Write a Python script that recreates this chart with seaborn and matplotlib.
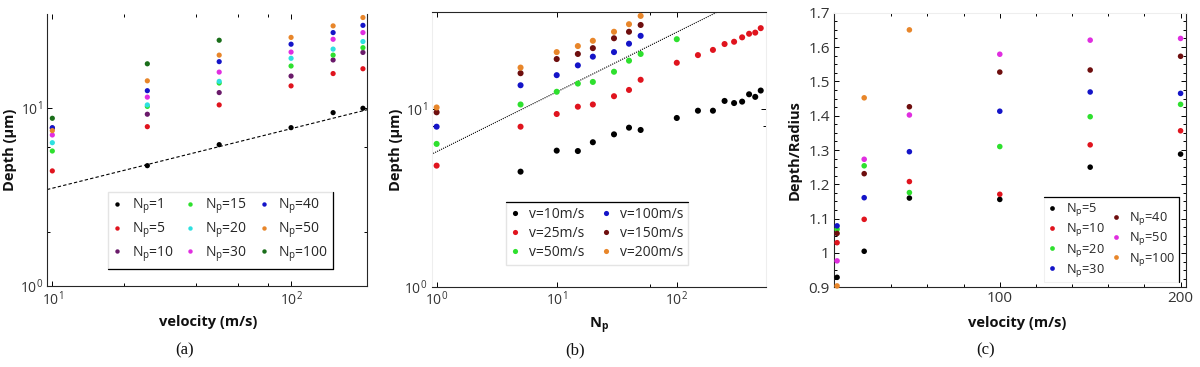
import numpy as np
import pandas as pd
import matplotlib
matplotlib.use("Agg")
import matplotlib.pyplot as plt
import matplotlib.ticker as mticker
from matplotlib.lines import Line2D
import seaborn as sns

nan = np.nan

# ---------------- panel (a): depth vs velocity for several Np ----------------
vel_a = [10, 25, 50, 100, 150, 200]
depth_np1 = [nan, 4.74, 6.22, 7.75, 9.41, 9.96]
depth_np5 = [4.43, 7.85, 10.4, 13.3, 15.6, 16.6]
depth_np10 = [7.7, 9.22, 12.2, 15.1, 18.6, 20.5]
depth_np15 = [5.73, 10.2, 13.8, 17.2, 19.8, 21.8]
depth_np20 = [6.38, 10.4, 14.1, 19.0, 21.4, 23.6]
depth_np30 = [7.05, 11.5, 15.9, 20.6, 24.3, 26.5]
depth_np40 = [7.75, 12.5, 18.2, 22.8, 26.5, 29.1]
depth_np50 = [7.46, 14.2, 19.8, 24.9, 28.9, 32.2]
depth_np100 = [8.75, 17.7, 24.0, nan, nan, nan]
np_values_a = [1, 5, 10, 15, 20, 30, 40, 50, 100]
colors_a = ["#000000", "#e0141e", "#6a1a6a", "#2ee02e", "#2ee0e0",
            "#e02ee0", "#1414c8", "#e8862a", "#1a6e1a"]
fit_a_x = [9.5, 210]
fit_a_y = [3.48, 9.8]

# ---------------- panel (b): depth vs Np for several velocities ----------------
np_b = [1, 5, 10, 15, 20, 30, 40, 50, 100, 150, 200, 250, 300, 350, 400, 450, 500]
depth_v10 = [nan, 4.44, 5.83, 5.80, 6.50, 7.20, 7.85, 7.62, 8.90, 9.78, 9.78,
             11.1, 10.8, 11.0, 12.1, 11.7, 12.7]
depth_v25 = [4.80, 7.95, 9.37, 10.3, 10.6, 11.8, 12.8, 14.6, 18.2, 20.1, 21.5,
             23.2, 23.9, 25.3, 26.5, 26.9, 28.5]
depth_v50 = [6.36, 10.6, 12.5, 13.9, 14.2, 16.2, 18.7, 20.4, 24.7] + [nan] * 8
depth_v100 = [7.95, 13.6, 15.5, 17.6, 19.7, 20.9, 23.3, 25.8] + [nan] * 9
depth_v150 = [9.58, 15.9, 19.1, 20.4, 22.0, 25.0, 27.2, 29.7] + [nan] * 9
depth_v200 = [10.2, 17.1, 20.9, 22.6, 24.2, 27.2, 30.0, 33.4] + [nan] * 9
vel_values_b = [10, 25, 50, 100, 150, 200]
colors_b = ["#000000", "#e0141e", "#2ee02e", "#1414c8", "#6e0e0e", "#e8862a"]
fit_b_x = [0.9, 215]
fit_b_y = [5.55, 35.0]

# ---------------- panel (c): depth/radius vs velocity ----------------
vel_c = [10, 25, 50, 100, 150, 200]
ratio_np5 = [0.929, 1.005, 1.160, 1.156, 1.250, 1.288]
ratio_np10 = [1.030, 1.098, 1.208, 1.171, 1.315, 1.356]
ratio_np20 = [1.069, 1.254, 1.176, 1.310, 1.397, 1.433]
ratio_np30 = [1.079, 1.161, 1.295, 1.413, 1.469, 1.465]
ratio_np40 = [1.057, 1.231, 1.426, 1.527, 1.533, 1.573]
ratio_np50 = [0.977, 1.273, 1.402, 1.579, 1.620, 1.625]
ratio_np100 = [0.904, 1.452, 1.650, nan, nan, nan]
np_values_c = [5, 10, 20, 30, 40, 50, 100]
colors_c = ["#000000", "#e0141e", "#2ee02e", "#1414c8", "#6e0e0e", "#e02ee0", "#e8862a"]

# ---------------- style ----------------
sns.set_theme(style="white")
plt.rcParams["font.family"] = ["Open Sans", "DejaVu Sans"]
plt.rcParams["mathtext.fontset"] = "custom"
plt.rcParams["mathtext.rm"] = "Open Sans"
plt.rcParams["mathtext.it"] = "Open Sans:italic"
plt.rcParams["mathtext.bf"] = "Open Sans:bold"
plt.rcParams["axes.linewidth"] = 0.8

fig = plt.figure(figsize=(12, 3.67), dpi=100)
W, H = 1200.0, 367.0


def add_axes_px(x0, y0, x1, y1):
    return fig.add_axes([x0 / W, 1 - y1 / H, (x1 - x0) / W, (y1 - y0) / H])


ax_a = add_axes_px(47, 14, 367, 286)
ax_b = add_axes_px(431.7, 12.3, 765.7, 286.7)
ax_c = add_axes_px(834, 12.7, 1186, 287.3)


def np_label(n):
    return r"N$_\mathrm{p}$=" + str(n)


def long_frame(xvals, series, names):
    rows = []
    for name, ys in zip(names, series):
        for x, y in zip(xvals, ys):
            rows.append((x, y, name))
    return pd.DataFrame(rows, columns=["x", "y", "series"]).dropna()


def style_ticks(ax, labelsize):
    ax.tick_params(which="both", direction="in", top=True, right=True,
                   bottom=True, left=True, color="black", labelcolor="#333333",
                   labelsize=labelsize, pad=3)
    ax.tick_params(which="major", length=3.5, width=0.7)
    ax.tick_params(which="minor", length=2.5, width=0.7)


def dark_edges(leg, sides, lw=0.9):
    fig.canvas.draw()
    bb = leg.get_frame().get_window_extent().transformed(fig.transFigure.inverted())
    x0, y0, x1, y1 = bb.x0, bb.y0, bb.x1, bb.y1
    segs = {"top": ([x0, x1], [y1, y1]), "bottom": ([x0, x1], [y0, y0]),
            "left": ([x0, x0], [y0, y1]), "right": ([x1, x1], [y0, y1])}
    for s in sides:
        fig.add_artist(Line2D(*segs[s], transform=fig.transFigure, color="black", lw=lw))


legend_kw = dict(fancybox=False, framealpha=1, edgecolor="#e4e4e4",
                 handlelength=0.6, handletextpad=0.75, borderaxespad=0,
                 markerscale=0.85)

# ---------------- (a) ----------------
names_a = [np_label(n) for n in np_values_a]
df_a = long_frame(vel_a, [depth_np1, depth_np5, depth_np10, depth_np15, depth_np20,
                          depth_np30, depth_np40, depth_np50, depth_np100], names_a)
sns.scatterplot(data=df_a, x="x", y="y", hue="series", hue_order=names_a,
                palette=dict(zip(names_a, colors_a)), s=14, linewidth=0,
                ax=ax_a, clip_on=False, zorder=3)
ax_a.plot(fit_a_x, fit_a_y, ls=(0, (3, 2)), color="black", lw=0.8, zorder=2)
ax_a.set_xscale("log")
ax_a.set_yscale("log")
ax_a.set_xlim(9.5, 208)
ax_a.set_ylim(1, 33.7)
ax_a.xaxis.set_major_locator(mticker.FixedLocator([10, 100]))
ax_a.xaxis.set_minor_locator(mticker.FixedLocator([20, 40, 60, 80]))
ax_a.yaxis.set_major_locator(mticker.FixedLocator([1, 10]))
ax_a.yaxis.set_minor_locator(mticker.FixedLocator([2, 6]))
ax_a.xaxis.set_major_formatter(mticker.LogFormatterSciNotation())
ax_a.yaxis.set_major_formatter(mticker.LogFormatterSciNotation())
ax_a.xaxis.set_minor_formatter(mticker.NullFormatter())
ax_a.yaxis.set_minor_formatter(mticker.NullFormatter())
style_ticks(ax_a, 10)
ax_a.spines["top"].set_visible(False)
ax_a.set_xlabel("velocity (m/s)", fontsize=10.5, fontweight="bold", color="#111111")
ax_a.set_ylabel("Depth (μm)", fontsize=10.5, fontweight="bold", color="#111111")
ax_a.xaxis.set_label_coords(0.503, -0.105)
ax_a.yaxis.set_label_coords(-0.094, 0.5)
h, l = ax_a.get_legend_handles_labels()
leg_a = ax_a.legend(h, l, ncol=3, loc="upper left", bbox_to_anchor=(0.1906, 0.3467),
                    fontsize=10, labelspacing=0.3, columnspacing=0.9,
                    borderpad=0.35, **legend_kw)

# ---------------- (b) ----------------
names_b = ["v=%dm/s" % v for v in vel_values_b]
df_b = long_frame(np_b, [depth_v10, depth_v25, depth_v50, depth_v100, depth_v150,
                         depth_v200], names_b)
sns.scatterplot(data=df_b, x="x", y="y", hue="series", hue_order=names_b,
                palette=dict(zip(names_b, colors_b)), s=19, linewidth=0,
                ax=ax_b, clip_on=False, zorder=3)
ax_b.plot(fit_b_x, fit_b_y, ls=(0, (1, 1)), color="black", lw=0.8, zorder=2)
ax_b.set_xscale("log")
ax_b.set_yscale("log")
ax_b.set_xlim(0.91, 550)
ax_b.set_ylim(1, 35)
ax_b.xaxis.set_major_locator(mticker.FixedLocator([1, 10, 100]))
ax_b.xaxis.set_minor_locator(mticker.FixedLocator([60]))
ax_b.yaxis.set_major_locator(mticker.FixedLocator([1, 10]))
ax_b.yaxis.set_minor_locator(mticker.FixedLocator([8]))
ax_b.xaxis.set_major_formatter(mticker.LogFormatterSciNotation())
ax_b.yaxis.set_major_formatter(mticker.LogFormatterSciNotation())
ax_b.xaxis.set_minor_formatter(mticker.NullFormatter())
ax_b.yaxis.set_minor_formatter(mticker.NullFormatter())
style_ticks(ax_b, 10)
for side in ("left", "right"):
    ax_b.spines[side].set_color("#eeeeee")
ax_b.set_xlabel(r"N$_\mathbf{p}$", fontsize=10.5, fontweight="bold", color="#111111")
ax_b.set_ylabel("Depth (μm)", fontsize=10.5, fontweight="bold", color="#111111")
ax_b.xaxis.set_label_coords(0.501, -0.105)
ax_b.yaxis.set_label_coords(-0.086, 0.5)
h, l = ax_b.get_legend_handles_labels()
leg_b = ax_b.legend(h, l, ncol=2, loc="upper left", bbox_to_anchor=(0.2216, 0.3098),
                    fontsize=10, labelspacing=0.3, columnspacing=1.2,
                    borderpad=0.35, **legend_kw)

# ---------------- (c) ----------------
names_c = [np_label(n) for n in np_values_c]
df_c = long_frame(vel_c, [ratio_np5, ratio_np10, ratio_np20, ratio_np30, ratio_np40,
                          ratio_np50, ratio_np100], names_c)
sns.scatterplot(data=df_c, x="x", y="y", hue="series", hue_order=names_c,
                palette=dict(zip(names_c, colors_c)), s=16, linewidth=0,
                ax=ax_c, clip_on=False, zorder=3)
ax_c.set_xlim(8.3, 203)
ax_c.set_ylim(0.9, 1.7)
ax_c.xaxis.set_major_locator(mticker.FixedLocator([100, 200]))
ax_c.xaxis.set_minor_locator(mticker.FixedLocator([40, 60, 80, 120, 140, 160, 180]))
ax_c.yaxis.set_major_locator(mticker.MultipleLocator(0.1))
ax_c.yaxis.set_minor_locator(mticker.MultipleLocator(0.025))
ax_c.yaxis.set_major_formatter(mticker.FuncFormatter(lambda v, p: "%g" % round(v, 2)))
style_ticks(ax_c, 11)
ax_c.spines["top"].set_color("#eeeeee")
ax_c.set_xlabel("velocity (m/s)", fontsize=10.5, fontweight="bold", color="#111111")
ax_c.set_ylabel("Depth/Radius", fontsize=10.5, fontweight="bold", color="#111111")
ax_c.xaxis.set_label_coords(0.519, -0.105)
ax_c.yaxis.set_label_coords(-0.091, 0.5)
h, l = ax_c.get_legend_handles_labels()
kw_c = dict(legend_kw)
kw_c.update(frameon=False)
leg_c1 = ax_c.legend(h[:4], l[:4], ncol=1, loc="upper left",
                     bbox_to_anchor=(0.5966, 0.330), fontsize=9.2,
                     labelspacing=0.25, borderpad=0.35, **kw_c)
ax_c.add_artist(leg_c1)
leg_c2 = ax_c.legend(h[4:], l[4:], ncol=1, loc="upper left",
                     bbox_to_anchor=(0.5966 + 0.181, 0.330 - 0.0328), fontsize=9.2,
                     labelspacing=0.25, borderpad=0.35, **kw_c)
# light legend box for (c) with dark top/right edges
box_x0, box_x1 = 0.5966, 0.981
box_y0, box_y1 = 0.02, 0.330
ax_c.add_patch(plt.Rectangle((box_x0, box_y0), box_x1 - box_x0, box_y1 - box_y0,
                             transform=ax_c.transAxes, facecolor="white",
                             edgecolor="#f0f0f0", lw=0.8, zorder=1))
ax_c.plot([box_x0, box_x1], [box_y1, box_y1], color="black", lw=0.9,
          transform=ax_c.transAxes, clip_on=False, zorder=4)
ax_c.plot([box_x1, box_x1], [box_y0, box_y1], color="black", lw=0.9,
          transform=ax_c.transAxes, clip_on=False, zorder=4)

dark_edges(leg_a, ["right", "bottom"])
dark_edges(leg_b, ["top"])

# captions
for txt, xc in (("(a)", 185), ("(b)", 575), ("(c)", 985.7)):
    fig.text(xc / W, 1 - 350 / H, txt, ha="center", va="center", fontsize=12,
             family=["Liberation Serif", "DejaVu Serif"], color="#111111")

fig.savefig("out.png", dpi=100)
